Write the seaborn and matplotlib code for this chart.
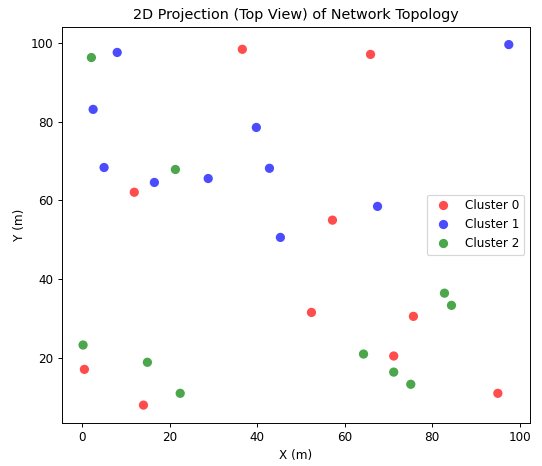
import matplotlib
matplotlib.use("Agg")
import matplotlib.pyplot as plt
import seaborn as sns
import pandas as pd

c0_x = [36.6, 65.9, 11.9, 57.2, 52.4, 75.7, 71.2, 0.5, 14.0, 95.0]
c0_y = [98.5, 97.2, 62.1, 55.0, 31.5, 30.5, 20.4, 17.0, 7.9, 10.9]
c1_x = [8.0, 97.5, 2.5, 39.8, 5.0, 16.5, 28.8, 42.8, 67.5, 45.3]
c1_y = [97.7, 99.7, 83.2, 78.6, 68.4, 64.6, 65.6, 68.2, 58.5, 50.6]
c2_x = [2.1, 21.3, 0.2, 14.9, 22.4, 64.3, 71.2, 75.1, 82.8, 84.4]
c2_y = [96.4, 67.9, 23.2, 18.8, 10.9, 20.9, 16.3, 13.2, 36.4, 33.3]
labels = ["Cluster 0", "Cluster 1", "Cluster 2"]
colors = ["red", "blue", "green"]

df = pd.concat([
    pd.DataFrame({"x": c0_x, "y": c0_y, "cluster": labels[0]}),
    pd.DataFrame({"x": c1_x, "y": c1_y, "cluster": labels[1]}),
    pd.DataFrame({"x": c2_x, "y": c2_y, "cluster": labels[2]}),
])

DPI = 86
fig, ax = plt.subplots(figsize=(542 / DPI, 466 / DPI), dpi=DPI)
sns.scatterplot(data=df, x="x", y="y", hue="cluster", palette=dict(zip(labels, colors)),
                alpha=0.7, s=60, edgecolor="none", ax=ax)
ax.set_title("2D Projection (Top View) of Network Topology")
ax.set_xlabel("X (m)")
ax.set_ylabel("Y (m)")
ax.legend(loc="center right", title=None)
fig.subplots_adjust(left=0.114, right=0.978, top=0.943, bottom=0.092)
fig.savefig("out.png", dpi=DPI)
